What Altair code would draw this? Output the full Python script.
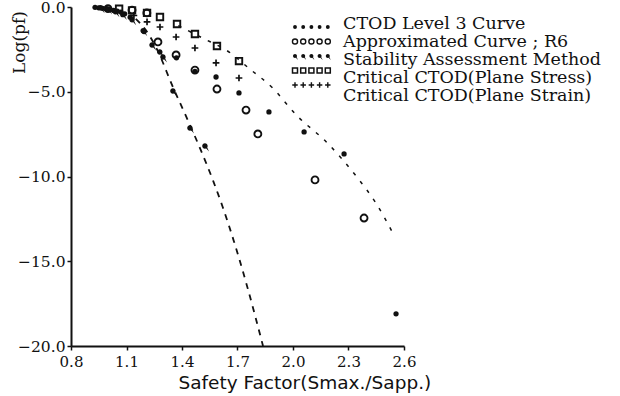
import altair as alt
import pandas as pd

# ---- data -------------------------------------------------------------
# CTOD Level 3 Curve (filled dots)
lvl3_x = [0.93, 0.95, 0.97, 0.99, 1.01, 1.03, 1.05, 1.07, 1.09, 1.12, 1.195,
          1.37, 1.47, 1.584, 1.708, 1.87, 2.06, 2.276, 2.557]
lvl3_y = [-0.02, -0.05, -0.08, -0.1, -0.15, -0.2, -0.25, -0.3, -0.4, -0.6, -1.45,
          -3.0, -3.8, -4.13, -5.07, -6.19, -7.37, -8.67, -18.1]

# Approximated Curve ; R6 (open circles)
r6_x = [1.0, 1.13, 1.21, 1.27, 1.368, 1.47, 1.589, 1.746, 1.81, 2.119, 2.384]
r6_y = [-0.1, -0.18, -0.35, -2.06, -2.83, -3.72, -4.84, -6.08, -7.49, -10.2, -12.45]

# Stability Assessment Method (dots with a tail)
sam_x = [0.96, 1.0, 1.04, 1.08, 1.13, 1.19, 1.238, 1.28, 1.297, 1.351, 1.443, 1.524]
sam_y = [-0.05, -0.12, -0.28, -0.45, -0.75, -1.4, -2.24, -2.65, -2.95, -4.96, -7.14, -8.2]

# Critical CTOD (Plane Stress) (open squares)
pss_x = [1.06, 1.13, 1.211, 1.281, 1.373, 1.47, 1.589, 1.708]
pss_y = [-0.1, -0.2, -0.35, -0.59, -1.0, -1.59, -2.3, -3.19]

# Critical CTOD (Plane Strain) (plus signs)
psn_x = [1.14, 1.211, 1.281, 1.368, 1.47, 1.584, 1.708]
psn_y = [-0.5, -0.88, -1.18, -1.77, -2.42, -3.3, -4.19]

# dashed fitted curves
fitA_x = [1.15, 1.2, 1.265, 1.35, 1.42, 1.5, 1.57, 1.62, 1.68, 1.75, 1.838]
fitA_y = [-0.7, -1.3, -2.5, -4.7, -6.4, -8.4, -10.3, -11.8, -13.8, -16.4, -20.0]
fitB_x = [1.38, 1.5, 1.66, 1.76, 1.89, 2.02, 2.18, 2.35, 2.45, 2.545]
fitB_y = [-1.1, -1.77, -2.7, -3.6, -4.78, -6.4, -7.96, -10.1, -11.6, -13.45]

legend_labels = ["CTOD Level 3 Curve", "Approximated Curve ; R6",
                 "Stability Assessment Method", "Critical CTOD(Plane Stress)",
                 "Critical CTOD(Plane Strain)"]

x_ticks = [0.8, 1.1, 1.4, 1.7, 2.0, 2.3, 2.6]
y_ticks = [-20, -15, -10, -5, 0]

# ---- styling ----------------------------------------------------------
SERIF = "DejaVu Serif"
SANS = "DejaVu Sans"
INK = "#111111"
PAD_L, PAD_T = 71, 7

TAIL_DOT = ("M-0.5,0A0.5,0.5 0 1,0 0.5,0A0.5,0.5 0 1,0 -0.5,0Z "
            "M0.15,0.35L0.75,1L0.4,0.25Z")
PLUS = "M-1,0L1,0M0,-1L0,1"

xs = alt.Scale(domain=[0.8, 2.6], nice=False, zero=False)
ys = alt.Scale(domain=[-20, 0], nice=False, zero=False)

x_axis = alt.Axis(values=x_ticks, format=".1f", grid=False, title="Safety Factor(Smax./Sapp.)",
                  domainColor=INK, domainWidth=2, tickColor=INK, tickWidth=1.5, tickSize=4,
                  labelFont=SERIF, labelFontSize=15, labelColor=INK, labelPadding=4,
                  labelFlush=False, titleFont=SANS, titleFontSize=18.5, titleFontWeight="normal",
                  titleColor=INK, titleAnchor="start", titleAlign="left", titleX=107,
                  titleY=36, titleBaseline="middle")
y_axis = alt.Axis(values=y_ticks, grid=False, title="Log(pf)",
                  labelExpr="datum.value < 0 ? '\u2212' + format(-datum.value, '.1f') : format(datum.value, '.1f')",
                  domainColor=INK, domainWidth=2, tickColor=INK, tickWidth=1.5, tickSize=4,
                  labelFont=SERIF, labelFontSize=15.5, labelColor=INK, labelPadding=2,
                  labelFlush=False, titleFont=SERIF, titleFontSize=17, titleFontWeight="normal",
                  titleColor=INK, titleAngle=270, titleAlign="center", titleBaseline="middle",
                  titleX=-52, titleY=35)


def frame(xv, yv):
    return pd.DataFrame({"x": xv, "y": yv})


def enc(chart):
    return chart.encode(
        x=alt.X("x:Q", scale=xs, axis=x_axis),
        y=alt.Y("y:Q", scale=ys, axis=y_axis),
    )


fitA = enc(alt.Chart(frame(fitA_x, fitA_y)).mark_line(
    color=INK, strokeWidth=1.8, strokeDash=[6, 6], interpolate="monotone"))
fitB = enc(alt.Chart(frame(fitB_x, fitB_y)).mark_line(
    color=INK, strokeWidth=1.5, strokeDash=[3.5, 7.5], interpolate="monotone"))

lvl3 = enc(alt.Chart(frame(lvl3_x, lvl3_y)).mark_point(
    shape="circle", filled=True, color=INK, size=28, opacity=1))
r6 = enc(alt.Chart(frame(r6_x, r6_y)).mark_point(
    shape="circle", filled=False, color=INK, size=48, strokeWidth=1.9, opacity=1))
sam = enc(alt.Chart(frame(sam_x, sam_y)).mark_point(
    shape=TAIL_DOT, filled=True, color=INK, size=120, opacity=1))
pss = enc(alt.Chart(frame(pss_x, pss_y)).mark_point(
    shape="square", filled=False, color=INK, size=42, strokeWidth=1.9, opacity=1))
psn = enc(alt.Chart(frame(psn_x, psn_y)).mark_point(
    shape=PLUS, filled=False, color=INK, size=45, strokeWidth=1.7, opacity=1))

# ---- legend (five sample markers per row, then the label) -------------
rows = pd.DataFrame({"row": list(range(5)), "label": legend_labels})
slots = pd.DataFrame({"slot": list(range(5))})
legend_marks = rows.merge(slots, how="cross")

LEG_X0, LEG_DX = 295 - PAD_L, 8.2
LEG_Y0, LEG_DY = 27 - PAD_T, 14.5
TEXT_X, TEXT_Y0, TEXT_DY = 343 - PAD_L, 24 - PAD_T, 18


def legend_row(i, **mark_kw):
    base = alt.Chart(legend_marks).transform_filter(alt.datum.row == i).transform_calculate(
        px=f"{LEG_X0} + datum.slot * {LEG_DX}", py=f"{LEG_Y0} + datum.row * {LEG_DY}")
    return base.mark_point(color=INK, opacity=1, **mark_kw).encode(
        x=alt.X("px:Q", scale=None, axis=None), y=alt.Y("py:Q", scale=None, axis=None))


leg = [
    legend_row(0, shape="circle", filled=True, size=15),
    legend_row(1, shape="circle", filled=False, size=26, strokeWidth=1.4),
    legend_row(2, shape=TAIL_DOT, filled=True, size=64),
    legend_row(3, shape="square", filled=False, size=25, strokeWidth=1.5),
    legend_row(4, shape=PLUS, filled=False, size=30, strokeWidth=1.4),
]

leg_text = alt.Chart(rows).transform_calculate(
    px=f"{TEXT_X}", py=f"{TEXT_Y0} + datum.row * {TEXT_DY}").mark_text(
    font=SERIF, fontSize=17.5, color=INK, align="left", baseline="middle").encode(
    x=alt.X("px:Q", scale=None, axis=None), y=alt.Y("py:Q", scale=None, axis=None),
    text="label:N")

chart = alt.layer(fitA, fitB, lvl3, r6, sam, pss, psn, *leg, leg_text).properties(
    width=333, height=339,
    autosize=alt.AutoSizeParams(type="none"),
    padding={"left": PAD_L, "top": PAD_T, "right": 216, "bottom": 50},
    background="white",
).configure_view(stroke=None)

chart.save("out.html", embed_options={"renderer": "svg", "actions": False})
